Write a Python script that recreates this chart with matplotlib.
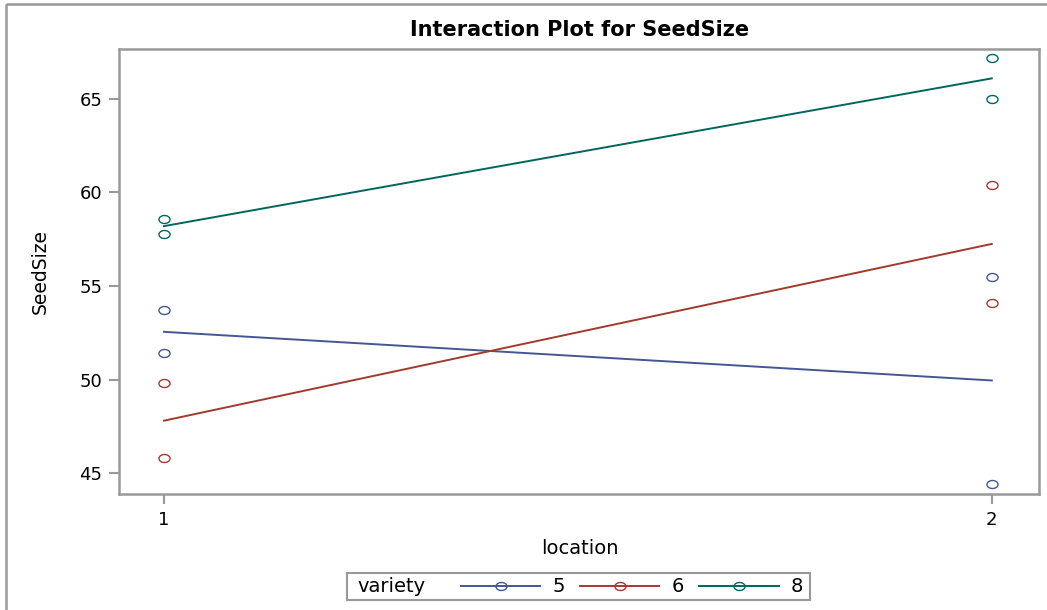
import matplotlib
matplotlib.use("Agg")
import numpy as np
import matplotlib.pyplot as plt
from matplotlib.lines import Line2D
from matplotlib.patches import Rectangle
from matplotlib.path import Path

# observations: two per variety and location
locations = [1, 2]
varieties = ["5", "6", "8"]
seed_loc1 = {"5": [53.7, 51.4], "6": [49.8, 45.8], "8": [58.6, 57.8]}
seed_loc2 = {"5": [55.5, 44.4], "6": [60.4, 54.1], "8": [67.2, 65.0]}
colors = {"5": "#445694", "6": "#A23A2E", "8": "#01665E"}
yticks = [45, 50, 55, 60, 65]

W, H = 1047, 610
fig = plt.figure(figsize=(W / 100, H / 100), dpi=100)
plt.rcParams['font.family'] = ['DejaVu Sans']

# the circles in the picture are a bit flattened
t = np.linspace(0, 2 * np.pi, 41)
ring = Path(np.column_stack([np.cos(t), 0.72 * np.sin(t)]), closed=True)


def fx(px):
    return px / W


def fy(py):
    return 1 - py / H


# axes box in pixels: left 119, top 49, right 1039, bottom 494
ax = fig.add_axes([fx(119), fy(494), fx(1039) - fx(119), fy(49) - fy(494)])

for v in varieties:
    c = colors[v]
    obs = [seed_loc1[v], seed_loc2[v]]
    for loc, vals in zip(locations, obs):
        ax.plot([loc] * len(vals), vals, linestyle='none', marker=ring,
                markersize=8, markerfacecolor='none', markeredgecolor=c,
                markeredgewidth=1.0)
    means = [sum(o) / len(o) for o in obs]
    ax.plot(locations, means, color=c, lw=1.4)

ax.set_xlim(0.9457, 2.057)
ax.set_ylim(43.88, 67.67)
ax.set_xticks(locations)
ax.set_yticks(yticks)
ax.tick_params(colors='#999999', labelcolor='black', labelsize=13,
               length=7, width=1.5, pad=5)
for s in ax.spines.values():
    s.set_color('#999999')
    s.set_linewidth(1.8)

fig.text(fx(580), fy(30), "Interaction Plot for SeedSize", ha='center',
         va='center', fontsize=15, fontweight='bold')
fig.text(fx(580), fy(548), "location", ha='center', va='center', fontsize=14)
fig.text(fx(40), fy(272), "SeedSize", ha='center', va='center', fontsize=13.5,
         rotation=90)

# outer frame
fig.patches.append(Rectangle((fx(6), fy(4)), 2, -2, transform=fig.transFigure,
                             fill=False, edgecolor='#999999', lw=1.8,
                             clip_on=False))

# legend frame and title
fig.patches.append(Rectangle((fx(347), fy(600)), fx(810) - fx(347),
                             fy(573) - fy(600), transform=fig.transFigure,
                             fill=False, edgecolor='#999999', lw=1.5))
fig.text(fx(357), fy(587), "variety", ha='left', va='center', fontsize=14)

handles = [Line2D([], [], color=colors[v], lw=1.4, marker=ring, markersize=8,
                  markerfacecolor='none', markeredgecolor=colors[v])
           for v in varieties]
fig.legend(handles, varieties, loc='center', ncol=3, frameon=False,
           bbox_to_anchor=(fx(632), fy(587)), fontsize=14,
           handlelength=4.07, handletextpad=0.62, columnspacing=0.8,
           borderpad=0, borderaxespad=0)

fig.savefig("out.png", dpi=100)
